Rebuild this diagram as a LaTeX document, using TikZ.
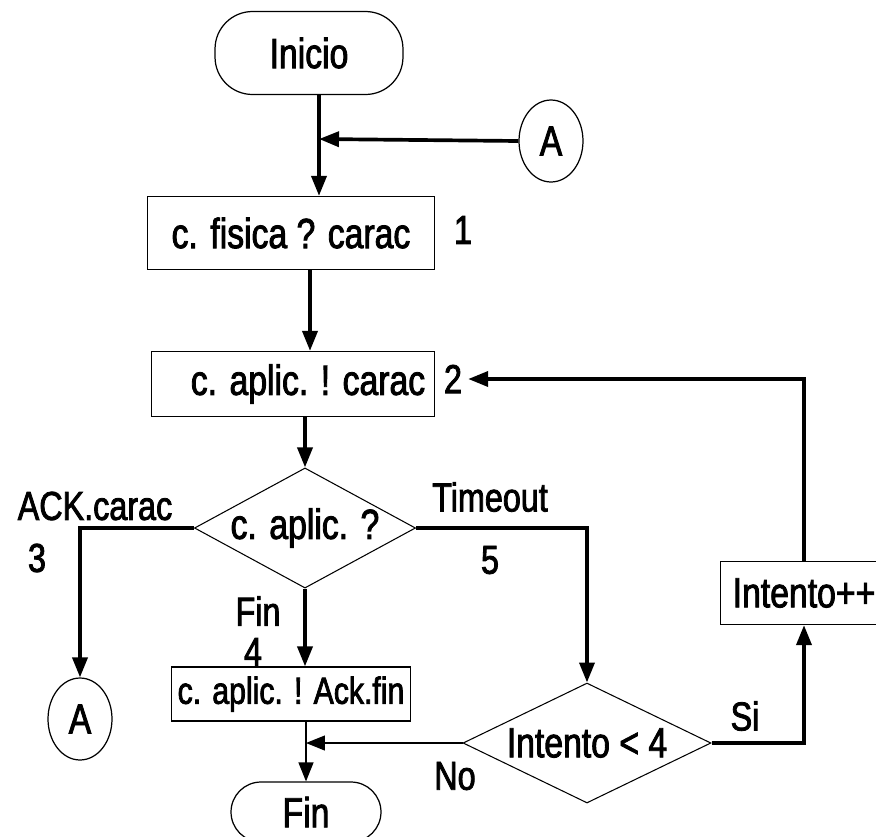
\documentclass[tikz,border=0pt]{standalone}
\usepackage{fontspec}
\setmainfont{Liberation Sans}[FakeStretch=0.8, FakeBold=2]
\usepackage{tikz}
\usetikzlibrary{arrows.meta}
\usetikzlibrary{shapes.geometric}

\newcommand{\cajafont}{\fontsize{24}{28}\selectfont}
\newcommand{\chicafont}{\fontsize{21.5}{25}\selectfont}
\newcommand{\etiqfont}{\fontsize{23}{27}\selectfont}

\tikzset{
  flecha/.style = {line width=2.1pt, -{Triangle[length=0.4cm,width=0.3cm]}},
  flechafina/.style = {line width=0.7pt, -{Triangle[length=0.38cm,width=0.3cm]}},
  caja/.style = {draw, line width=0.7pt, rectangle, inner sep=0pt, font=\cajafont},
  terminal/.style = {draw, line width=0.7pt, rectangle, rounded corners=0.75cm, inner sep=0pt, font=\cajafont},
  decision/.style = {draw, line width=0.6pt, diamond, inner sep=0pt, font=\cajafont},
  conector/.style = {draw, line width=0.7pt, ellipse, inner sep=0pt, minimum width=1.28cm, minimum height=1.64cm, font=\cajafont},
  etiq/.style = {font=\etiqfont}
}

\begin{document}
\begin{tikzpicture}[x=0.02cm, y=-0.02cm]
  \useasboundingbox (0,0) rectangle (876,836);
  \clip (0,0) rectangle (876,836);

  % boxes
  \node[terminal, minimum width=3.76cm, minimum height=1.66cm] (inicio) at (309,53) {Inicio};
  \node[conector] (conA) at (551,141) {A};
  \node[caja, minimum width=5.74cm, minimum height=1.46cm] (caja1) at (291,233) {c. fisica ? carac\hspace{0.3cm}};
  \node[caja, minimum width=5.66cm, minimum height=1.3cm] (caja2) at (293,384) {\hspace{0.6cm}c. aplic. ! carac};
  \node[decision, aspect=1.84, minimum width=4.16cm, minimum height=2.26cm] (dec1) at (305,528) {c. aplic. ?};
  \node[conector] (conA2) at (80,719) {A};
  \node[caja, font=\chicafont, minimum width=4.78cm, minimum height=1.08cm] (caja3) at (291,694) {c. aplic. ! Ack.fin};
  \node[terminal, rounded corners=0.6cm, minimum width=3cm, minimum height=1.2cm] (fin) at (306,812) {Fin};
  \node[decision, aspect=2.07, minimum width=4.96cm, minimum height=2.4cm] (dec2) at (587,743) {Intento < 4\hspace{0.3cm}};
  \node[caja, minimum width=3.34cm, minimum height=1.26cm] (intento) at (804,593) {Intento++};

  % labels
  \node[etiq] (et1) at (463,230) {1};
  \node[etiq] (et2) at (453,379) {2};
  \node[etiq] (etAck) at (95,506) {ACK.carac};
  \node[etiq] (et3) at (37,558) {3};
  \node[etiq] (etTime) at (490,497) {Timeout};
  \node[etiq] (et5) at (490,560) {5};
  \node[etiq] (etFin) at (258,611) {Fin};
  \node[etiq] (et4) at (253,652) {4};
  \node[etiq] (etNo) at (455,776) {No};
  \node[etiq] (etSi) at (745,716) {Si};

  % junction points
  \coordinate (j1) at (319,139);
  \coordinate (x2) at (310,0);

  \draw[flecha] (inicio.south -| j1) -- (caja1.north -| j1);
  \draw[flecha] (conA.west) -- (j1);
  \draw[flecha] (caja1.south -| x2) -- (caja2.north -| x2);
  \draw[flecha] (caja2.south -| dec1.north) -- (dec1.north);
  \draw[flecha] (dec1.west) -| (conA2.north);
  \draw[flecha] (dec1.east) -| (dec2.north);
  \draw[flecha] (dec1.south) -- (dec1.south |- caja3.north);
  \draw[flechafina] (fin.north |- caja3.south) -- (fin.north);
  \draw[flechafina] (dec2.west) -- (dec2.west -| fin.north);
  \draw[flecha] (dec2.east) -| (intento.south);
  \draw[flecha] (intento.north) |- (et2.east);
\end{tikzpicture}
\end{document}
